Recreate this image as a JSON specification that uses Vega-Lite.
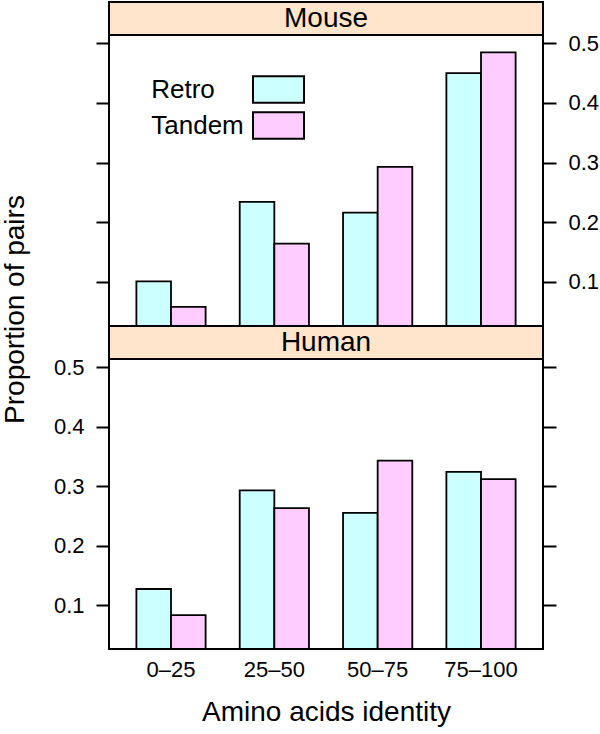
{
  "$schema": "https://vega.github.io/schema/vega-lite/v6.json",
  "padding": {"left": 0, "top": 1, "right": 0, "bottom": 5},
  "bounds": "flush",
  "datasets": {
    "bars": [
      {"species": "Mouse", "identity": "0–25", "type": "Retro", "value": 0.101},
      {"species": "Mouse", "identity": "0–25", "type": "Tandem", "value": 0.058},
      {"species": "Mouse", "identity": "25–50", "type": "Retro", "value": 0.234},
      {"species": "Mouse", "identity": "25–50", "type": "Tandem", "value": 0.164},
      {"species": "Mouse", "identity": "50–75", "type": "Retro", "value": 0.216},
      {"species": "Mouse", "identity": "50–75", "type": "Tandem", "value": 0.293},
      {"species": "Mouse", "identity": "75–100", "type": "Retro", "value": 0.450},
      {"species": "Mouse", "identity": "75–100", "type": "Tandem", "value": 0.485},
      {"species": "Human", "identity": "0–25", "type": "Retro", "value": 0.127},
      {"species": "Human", "identity": "0–25", "type": "Tandem", "value": 0.083},
      {"species": "Human", "identity": "25–50", "type": "Retro", "value": 0.293},
      {"species": "Human", "identity": "25–50", "type": "Tandem", "value": 0.263},
      {"species": "Human", "identity": "50–75", "type": "Retro", "value": 0.255},
      {"species": "Human", "identity": "50–75", "type": "Tandem", "value": 0.343},
      {"species": "Human", "identity": "75–100", "type": "Retro", "value": 0.324},
      {"species": "Human", "identity": "75–100", "type": "Tandem", "value": 0.312}
    ]
  },
  "config": {
    "font": "Liberation Sans",
    "view": {"stroke": "black", "strokeWidth": 2},
    "axis": {"labelFont": "Liberation Sans", "titleFont": "Liberation Sans", "labelColor": "black", "titleColor": "black", "titleFontWeight": "normal"}
  },
  "spacing": 0,
  "resolve": {"scale": {"color": "independent", "y": "independent", "x": "independent"}, "legend": {"color": "independent"}},
  "vconcat": [
    {
      "width": 434, "height": 33,
      "view": {"fill": "#ffe5cc", "stroke": "black", "strokeWidth": 2},
      "data": {"values": [{"panel": "Mouse"}]},
      "mark": {"type": "text", "fontSize": 28, "baseline": "middle", "color": "black"},
      "encoding": {"text": {"field": "panel"}}
    },
    {
      "width": 434, "height": 291,
      "data": {"name": "bars"},
      "transform": [{"filter": "datum.species === 'Mouse'"}],
      "resolve": {"axis": {"y": "independent"}},
      "layer": [
        {
          "mark": {"type": "bar", "stroke": "black", "strokeWidth": 1.8, "opacity": 0},
          "encoding": {
            "x": {"field": "identity", "type": "nominal", "sort": ["0–25", "25–50", "50–75", "75–100"], "axis": null,
                  "scale": {"paddingInner": 0.33, "paddingOuter": 0.265}},
            "xOffset": {"field": "type", "type": "nominal", "scale": {"paddingInner": 0, "paddingOuter": 0}},
            "y": {"field": "value", "type": "quantitative",
                  "scale": {"domain": [0.026, 0.514], "nice": false, "zero": false},
                  "axis": {"orient": "left", "values": [0.1, 0.2, 0.3, 0.4, 0.5], "labels": false, "domain": false, "grid": false, "tickSize": 13, "tickWidth": 2, "tickColor": "black", "title": null}},
            "y2": {"datum": 0.026}
          }
        },
        {
          "mark": {"type": "bar", "stroke": "black", "strokeWidth": 1.8},
          "encoding": {
            "x": {"field": "identity", "type": "nominal", "sort": ["0–25", "25–50", "50–75", "75–100"], "axis": null},
            "xOffset": {"field": "type", "type": "nominal"},
            "y": {"field": "value", "type": "quantitative",
                  "axis": {"orient": "right", "values": [0.1, 0.2, 0.3, 0.4, 0.5], "format": ".1f", "domain": false, "grid": false, "tickSize": 13, "tickWidth": 2, "tickColor": "black", "labelFontSize": 22, "labelPadding": 12, "title": null}},
            "y2": {"datum": 0.026},
            "color": {"field": "type", "type": "nominal",
                      "scale": {"domain": ["Retro", "Tandem"], "range": ["#ccffff", "#ffccff"]},
                      "legend": {"orient": "none", "legendX": 156.5, "legendY": 41.5, "title": null, "padding": 0,
                                 "symbolType": "M-2.55,-1.325H2.55V1.325H-2.55Z", "symbolSize": 400, "symbolStrokeColor": "black", "symbolStrokeWidth": 2, "symbolOpacity": 1,
                                 "labelFontSize": 26, "labelColor": "black", "labelFont": "Liberation Sans", "labelAlign": "left", "labelOffset": -140.25, "rowPadding": 0}}
          }
        }
      ]
    },
    {
      "width": 434, "height": 33,
      "view": {"fill": "#ffe5cc", "stroke": "black", "strokeWidth": 2},
      "data": {"values": [{"panel": "Human"}]},
      "mark": {"type": "text", "fontSize": 28, "baseline": "middle", "color": "black"},
      "encoding": {"text": {"field": "panel"}}
    },
    {
      "width": 434, "height": 290,
      "data": {"name": "bars"},
      "transform": [{"filter": "datum.species === 'Human'"}],
      "resolve": {"axis": {"y": "independent"}},
      "layer": [
        {
          "mark": {"type": "bar", "stroke": "black", "strokeWidth": 1.8, "opacity": 0},
          "encoding": {
            "x": {"field": "identity", "type": "nominal", "sort": ["0–25", "25–50", "50–75", "75–100"],
                  "scale": {"paddingInner": 0.33, "paddingOuter": 0.265},
                  "axis": {"labelAngle": 0, "ticks": false, "domain": false, "labelFontSize": 22, "labelPadding": 10, "title": "Amino acids identity", "titleFontSize": 28, "titlePadding": 18}},
            "xOffset": {"field": "type", "type": "nominal", "scale": {"paddingInner": 0, "paddingOuter": 0}},
            "y": {"field": "value", "type": "quantitative",
                  "scale": {"domain": [0.026, 0.514], "nice": false, "zero": false},
                  "axis": {"orient": "right", "values": [0.1, 0.2, 0.3, 0.4, 0.5], "labels": false, "domain": false, "grid": false, "tickSize": 13, "tickWidth": 2, "tickColor": "black", "title": null}},
            "y2": {"datum": 0.026}
          }
        },
        {
          "mark": {"type": "bar", "stroke": "black", "strokeWidth": 1.8},
          "encoding": {
            "x": {"field": "identity", "type": "nominal", "sort": ["0–25", "25–50", "50–75", "75–100"]},
            "xOffset": {"field": "type", "type": "nominal"},
            "y": {"field": "value", "type": "quantitative",
                  "axis": {"orient": "left", "values": [0.1, 0.2, 0.3, 0.4, 0.5], "format": ".1f", "domain": false, "grid": false, "tickSize": 13, "tickWidth": 2, "tickColor": "black", "labelFontSize": 22, "labelPadding": 12,
                           "title": "Proportion of pairs", "titleFontSize": 28, "titleY": -50, "titlePadding": 24}},
            "y2": {"datum": 0.026},
            "color": {"field": "type", "type": "nominal",
                      "scale": {"domain": ["Retro", "Tandem"], "range": ["#ccffff", "#ffccff"]},
                      "legend": null}
          }
        }
      ]
    }
  ]
}
